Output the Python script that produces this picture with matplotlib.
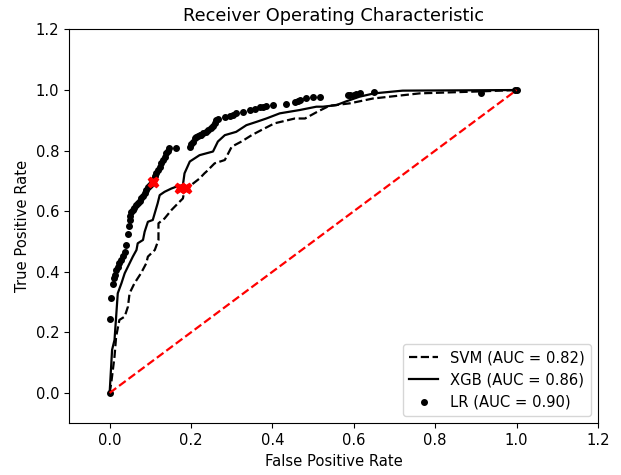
import matplotlib
matplotlib.use("Agg")
import matplotlib.pyplot as plt

svm_fpr = [0.0, 0.004, 0.012, 0.016, 0.024, 0.037, 0.045, 0.049, 0.061, 0.077, 0.09, 0.094, 0.111, 0.12, 0.12,
           0.135, 0.152, 0.168, 0.18, 0.184, 0.2, 0.221, 0.233, 0.238, 0.258, 0.283, 0.3, 0.324, 0.349, 0.373,
           0.405, 0.455, 0.48, 0.51, 0.54, 0.59, 0.647, 0.762, 0.9, 1.0]
svm_tpr = [0.0, 0.033, 0.12, 0.186, 0.241, 0.252, 0.285, 0.329, 0.362, 0.395, 0.428, 0.45, 0.472, 0.505, 0.56,
           0.576, 0.604, 0.626, 0.642, 0.67, 0.686, 0.708, 0.725, 0.731, 0.758, 0.769, 0.813, 0.83, 0.851, 0.868,
           0.89, 0.906, 0.906, 0.928, 0.948, 0.956, 0.972, 0.989, 0.995, 1.0]

xgb_fpr = [0.0, 0.006, 0.012, 0.02, 0.029, 0.037, 0.049, 0.057, 0.066, 0.069, 0.082, 0.086, 0.094, 0.106,
           0.118, 0.123, 0.135, 0.152, 0.164, 0.18, 0.184, 0.197, 0.221, 0.254, 0.266, 0.283, 0.311, 0.336,
           0.361, 0.385, 0.418, 0.467, 0.508, 0.524, 0.557, 0.58, 0.614, 0.65, 0.72, 1.0]
xgb_tpr = [0.0, 0.142, 0.175, 0.329, 0.362, 0.395, 0.428, 0.45, 0.472, 0.494, 0.505, 0.532, 0.565, 0.571,
           0.626, 0.653, 0.664, 0.675, 0.681, 0.686, 0.725, 0.764, 0.785, 0.797, 0.83, 0.851, 0.862, 0.884,
           0.895, 0.906, 0.923, 0.934, 0.945, 0.945, 0.95, 0.962, 0.978, 0.989, 0.998, 1.0]

lr_fpr = [0.0, 0.0, 0.004, 0.008, 0.01, 0.012, 0.016, 0.02, 0.024, 0.029, 0.033, 0.037, 0.041, 0.045, 0.047,
          0.049, 0.051, 0.053, 0.057, 0.061, 0.066, 0.07, 0.074, 0.078, 0.082, 0.086, 0.09, 0.094, 0.098,
          0.104, 0.108, 0.111, 0.115, 0.119, 0.123, 0.127, 0.131, 0.135, 0.139, 0.143, 0.147, 0.164, 0.197,
          0.201, 0.205, 0.209, 0.213, 0.217, 0.221, 0.225, 0.23, 0.236, 0.242, 0.25, 0.254, 0.258, 0.262,
          0.266, 0.283, 0.295, 0.303, 0.311, 0.328, 0.344, 0.356, 0.369, 0.377, 0.385, 0.401, 0.434, 0.455,
          0.463, 0.467, 0.483, 0.5, 0.516, 0.586, 0.59, 0.6, 0.606, 0.614, 0.649, 0.913, 0.995, 1.0]
lr_tpr = [0.0, 0.243, 0.312, 0.36, 0.378, 0.39, 0.405, 0.417, 0.428, 0.439, 0.452, 0.466, 0.488, 0.525, 0.55,
          0.571, 0.585, 0.598, 0.604, 0.612, 0.62, 0.626, 0.634, 0.642, 0.65, 0.66, 0.67, 0.68, 0.688,
          0.697, 0.706, 0.716, 0.725, 0.736, 0.747, 0.758, 0.769, 0.78, 0.791, 0.8, 0.807, 0.807, 0.813,
          0.822, 0.83, 0.84, 0.845, 0.848, 0.851, 0.853, 0.858, 0.862, 0.868, 0.873, 0.882, 0.892, 0.9,
          0.906, 0.91, 0.914, 0.918, 0.923, 0.928, 0.934, 0.938, 0.943, 0.945, 0.947, 0.95, 0.954, 0.96,
          0.965, 0.968, 0.973, 0.976, 0.978, 0.983, 0.983, 0.985, 0.987, 0.989, 0.992, 0.991, 1.0, 1.0]

best_fpr = [0.106, 0.172, 0.188]
best_tpr = [0.697, 0.675, 0.675]

labels = ["SVM (AUC = 0.82)", "XGB (AUC = 0.86)", "LR (AUC = 0.90)"]

plt.rcParams['font.size'] = 10.6
fig = plt.figure(figsize=(6.21, 4.75), dpi=100)
ax = fig.add_axes([0.111, 0.109, 0.852, 0.829])

ax.plot(svm_fpr, svm_tpr, 'k--', lw=1.6, label=labels[0])
ax.plot(xgb_fpr, xgb_tpr, 'k-', lw=1.6, label=labels[1])
ax.plot(lr_fpr, lr_tpr, 'k.', ms=8, label=labels[2])
ax.plot([0, 1], [0, 1], 'r--', lw=1.6)
ax.plot(best_fpr, best_tpr, 'rX', ms=7.5)

ax.set_xlim(-0.1, 1.2)
ax.set_ylim(-0.1, 1.2)
ax.set_xticks([0.0, 0.2, 0.4, 0.6, 0.8, 1.0, 1.2])
ax.set_yticks([0.0, 0.2, 0.4, 0.6, 0.8, 1.0, 1.2])
ax.set_xlabel("False Positive Rate")
ax.set_ylabel("True Positive Rate")
ax.set_title("Receiver Operating Characteristic", fontsize=12.8)
ax.legend(loc="lower right")

fig.savefig("out.png", dpi=100)
